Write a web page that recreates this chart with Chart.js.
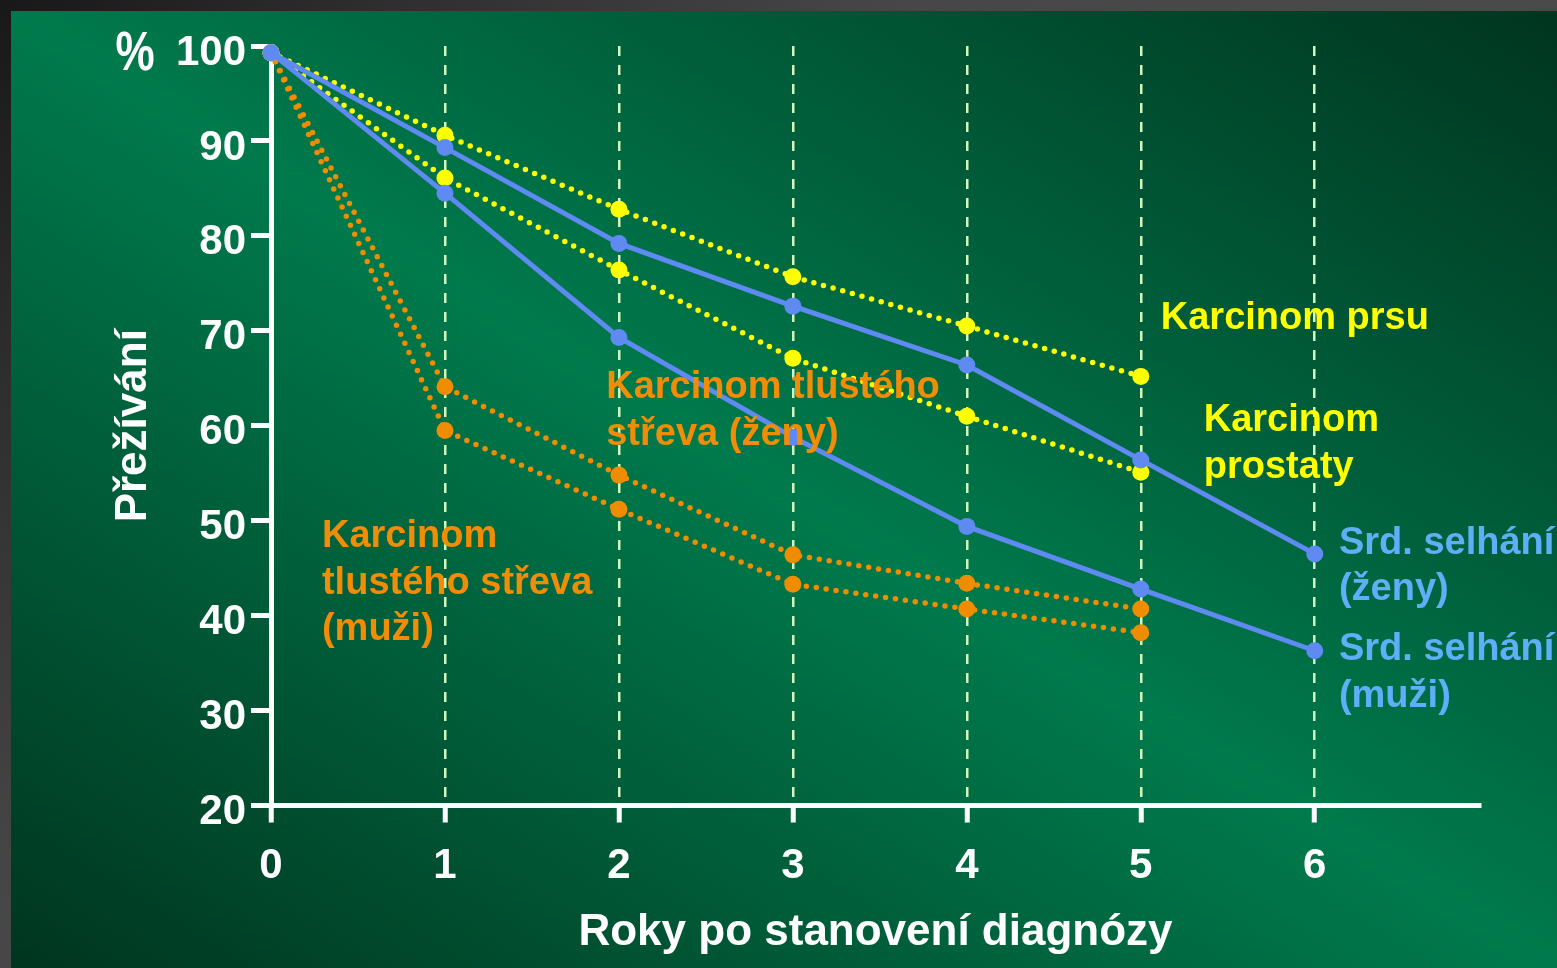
<!DOCTYPE html>
<html><head><meta charset="utf-8">
<script src="https://cdn.jsdelivr.net/npm/chart.js@4/dist/chart.umd.min.js"></script>
<style>
html,body{margin:0;padding:0;width:1557px;height:968px;overflow:hidden;
  background:radial-gradient(circle at 0 0,#181818 0px,#2a2a2a 300px,#474747 900px,#4a4a4a 1600px);}
#wrap{position:absolute;left:11px;top:11px;width:1546px;height:957px;
  background:linear-gradient(to bottom left,#003520 0%,#007a4c 50%,#003520 100%);}
canvas{display:block}
</style></head><body>
<div id="wrap"><canvas id="c" width="1546" height="957"></canvas></div>
<script>
// ---- data ----
const xTicks = [0, 1, 2, 3, 4, 5, 6];
const yearsLong = [0, 1, 2, 3, 4, 5, 6];
const yearsShort = [0, 1, 2, 3, 4, 5];
const srdSelhaniZeny = [99.3, 89.3, 79.2, 72.6, 66.4, 56.4, 46.5];
const srdSelhaniMuzi = [99.3, 84.5, 69.3, 58.8, 49.4, 42.8, 36.3];
const karcinomPrsu = [99.3, 90.6, 82.8, 75.7, 70.5, 65.2];
const karcinomProstaty = [99.3, 86.1, 76.4, 67.1, 61.0, 55.1];
const strevaZeny = [99.3, 64.1, 54.8, 46.4, 43.4, 40.7];
const strevaMuzi = [99.3, 59.5, 51.2, 43.3, 40.7, 38.2];
const xTitle = 'Roky po stanovení diagnózy';
const yTitle = 'Přežívání';
const notes = [
  {lines: ['Karcinom prsu'], x: 5.115, y: 71.3, color: '#ffff00'},
  {lines: ['Karcinom', 'prostaty'], x: 5.362, y: 60.5, color: '#ffff00'},
  {lines: ['Karcinom tlustého', 'střeva (ženy)'], x: 1.927, y: 64.0, color: '#f08c06'},
  {lines: ['Karcinom', 'tlustého střeva', '(muži)'], x: 0.293, y: 48.3, color: '#f08c06'},
  {lines: ['Srd. selhání', '(ženy)'], x: 6.139, y: 47.6, color: '#5db0f8'},
  {lines: ['Srd. selhání', '(muži)'], x: 6.139, y: 36.4, color: '#5db0f8'}
];

const FONT = '"Liberation Sans", Arial, sans-serif';
const pts = (xs, ys) => ys.map((v, i) => ({x: xs[i], y: v}));

const BLUE = '#5f8af2', YEL = '#ffff00', ORA = '#f08c00';
function solid(data, xs, c) {
  return {data: pts(xs, data), borderColor: c, backgroundColor: c, borderWidth: 5,
    pointRadius: 8.5, pointHoverRadius: 8.5, pointBorderWidth: 0, tension: 0, clip: false};
}
function dotted(data, xs, c) {
  return {data: pts(xs, data), borderColor: c, backgroundColor: c, borderWidth: 5.5,
    borderDash: [0, 10], borderCapStyle: 'round',
    pointRadius: 8.5, pointHoverRadius: 8.5, pointBorderWidth: 0, tension: 0, clip: false};
}

const notePlugin = {
  id: 'notes',
  afterDatasetsDraw(chart) {
    const {ctx, scales: {x, y}} = chart;
    ctx.save();
    ctx.font = 'bold 38px ' + FONT;
    ctx.textAlign = 'left';
    ctx.textBaseline = 'middle';
    notes.forEach(n => {
      ctx.fillStyle = n.color;
      const px = x.getPixelForValue(n.x), py = y.getPixelForValue(n.y);
      n.lines.forEach((t, i) => ctx.fillText(t, px, py + i * 46.5));
    });
    // "%" unit mark beside the top tick
    ctx.fillStyle = '#ffffff';
    ctx.textAlign = 'center';
    ctx.translate(124, y.getPixelForValue(100) + 9);
    ctx.scale(0.8, 1);
    ctx.font = 'bold 55px ' + FONT;
    ctx.fillText('%', 0, 0);
    ctx.restore();
  }
};

new Chart(document.getElementById('c'), {
  type: 'line',
  data: {
    datasets: [
      solid(srdSelhaniZeny, yearsLong, BLUE),
      solid(srdSelhaniMuzi, yearsLong, BLUE),
      dotted(karcinomPrsu, yearsShort, YEL),
      dotted(karcinomProstaty, yearsShort, YEL),
      dotted(strevaZeny, yearsShort, ORA),
      dotted(strevaMuzi, yearsShort, ORA)
    ]
  },
  options: {
    responsive: false,
    animation: false,
    events: [],
    layout: {padding: {left: 0, top: 35, right: 77, bottom: 0}},
    plugins: {legend: {display: false}, tooltip: {enabled: false}},
    scales: {
      x: {
        type: 'linear', position: 'bottom', min: 0, max: 6.95,
        afterFit(s) { s.height = 162.5; },
        afterBuildTicks(s) { s.ticks = xTicks.map(v => ({value: v})); },
        ticks: {color: '#ffffff', font: {family: FONT, size: 42, weight: 'bold'}, padding: 19,
          maxRotation: 0, autoSkip: false, includeBounds: false},
        grid: {
          drawOnChartArea: true, drawTicks: true,
          color: c => (c.tick && c.tick.value === 0) ? 'rgba(0,0,0,0)' : '#d2f7bd',
          lineWidth: 2.5, tickColor: '#ffffff', tickWidth: 5, tickLength: 17
        },
        border: {display: true, color: '#ffffff', width: 5, dash: [10, 9]},
        title: {display: true, text: xTitle, color: '#ffffff',
          font: {family: FONT, size: 44, weight: 'bold'}, padding: {top: 0, bottom: 9}}
      },
      y: {
        min: 20, max: 100,
        afterFit(s) { s.width = 260; },
        ticks: {stepSize: 10, color: '#ffffff', font: {family: FONT, size: 42, weight: 'bold'},
          padding: 5, labelOffset: 7},
        grid: {drawOnChartArea: false, drawTicks: true, tickColor: '#ffffff', tickWidth: 5, tickLength: 20},
        border: {display: true, color: '#ffffff', width: 5},
        title: {display: true, text: yTitle, color: '#ffffff',
          font: {family: FONT, size: 44, weight: 'bold'}, padding: {top: 96, bottom: 0}}
      }
    }
  },
  plugins: [notePlugin]
});
</script>
</body></html>
